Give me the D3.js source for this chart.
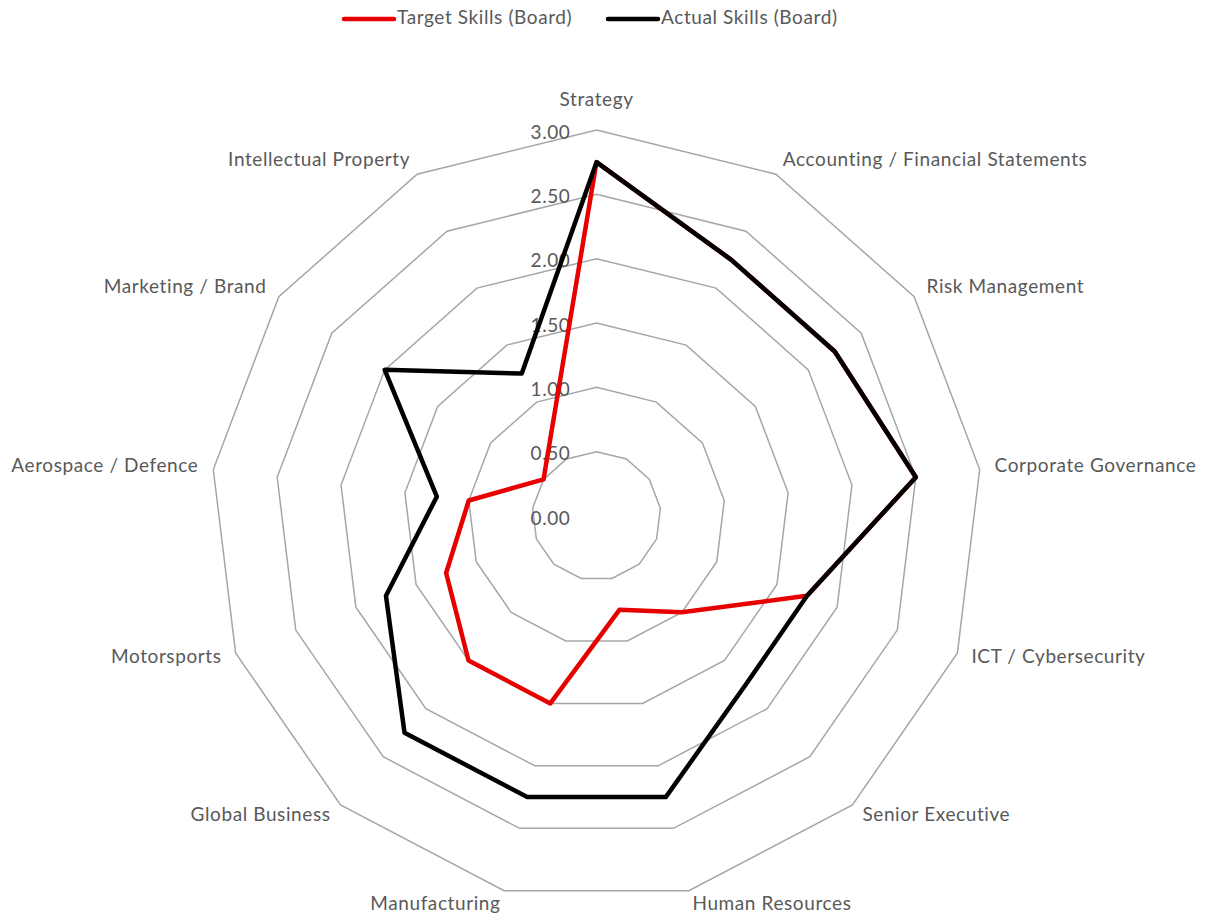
<!DOCTYPE html>
<html>
<head>
<meta charset="utf-8">
<script src="https://cdn.jsdelivr.net/npm/d3@7"></script>
<style>
  html, body { margin: 0; padding: 0; background: #fff; }
  svg text { font-family: Lato, "Open Sans", sans-serif; fill: #595959; letter-spacing: 0.6px; }
</style>
</head>
<body>
<div id="chart"></div>
<script>
const categories = [
  "Strategy", "Accounting / Financial Statements", "Risk Management",
  "Corporate Governance", "ICT / Cybersecurity", "Senior Executive",
  "Human Resources", "Manufacturing", "Global Business", "Motorsports",
  "Aerospace / Defence", "Marketing / Brand", "Intellectual Property"
];
const targetSkills = [2.75, 2.25, 2.25, 2.5, 1.75, 1.0, 0.75, 1.5, 1.5, 1.25, 1.0, 0.5, 0.75];
const actualSkills = [2.75, 2.25, 2.25, 2.5, 1.75, 1.75, 2.25, 2.25, 2.25, 1.75, 1.25, 2.0, 1.25];
const ticks = [0, 0.5, 1, 1.5, 2, 2.5, 3];
const seriesNames = ["Target Skills (Board)", "Actual Skills (Board)"];

const width = 1207, height = 915;
const cx = 596.5, cy = 516, R = 386;
const fontSize = 19;

const svg = d3.select("#chart")
  .append("svg")
  .attr("width", width)
  .attr("height", height);

const r = d3.scaleLinear().domain([0, 3]).range([0, R]);
const angle = d3.scaleLinear().domain([0, categories.length]).range([0, 2 * Math.PI]);

const g = svg.append("g").attr("transform", `translate(${cx},${cy})`);

// grid rings (no ring at 0)
const ring = d3.lineRadial()
  .angle((d, i) => angle(i))
  .radius(d => r(d))
  .curve(d3.curveLinearClosed);

g.selectAll("path.grid")
  .data(ticks.filter(t => t > 0))
  .enter()
  .append("path")
  .attr("class", "grid")
  .attr("d", t => ring(categories.map(() => t)))
  .style("fill", "none")
  .style("stroke", "#a6a6a6")
  .style("stroke-width", 1.5);

// tick labels
g.selectAll("text.tick")
  .data(ticks)
  .enter()
  .append("text")
  .attr("class", "tick")
  .attr("x", -26)
  .attr("y", d => -r(d) + 4)
  .attr("text-anchor", "end")
  .attr("dominant-baseline", "middle")
  .style("font-size", fontSize + "px")
  .text(d => d3.format(".2f")(d));

// series
const colors = ["#e60000", "#000000"];
const series = [targetSkills, actualSkills];

g.selectAll("path.series")
  .data(series)
  .enter()
  .append("path")
  .attr("class", "series")
  .attr("d", d => ring(d))
  .style("fill", "none")
  .style("stroke", (d, i) => colors[i])
  .style("stroke-width", 4.5)
  .style("stroke-linejoin", "round");

// category labels
g.selectAll("text.cat")
  .data(categories)
  .enter()
  .append("text")
  .attr("class", "cat")
  .each(function (d, i) {
    const a = angle(i);
    const sx = Math.sin(a), sy = -Math.cos(a);
    const el = d3.select(this);
    if (i === 0) {
      el.attr("x", 0).attr("y", -R - 24).attr("text-anchor", "middle");
    } else {
      const rr = R + 15;
      el.attr("x", sx * rr)
        .attr("y", sy * rr)
        .attr("text-anchor", sx > 0 ? "start" : "end")
        .attr("dominant-baseline", "middle");
    }
  })
  .style("font-size", fontSize + "px")
  .text(d => d);

// legend
const legendX = [344, 608];
const legend = svg.selectAll("g.legend")
  .data(seriesNames)
  .enter()
  .append("g")
  .attr("class", "legend")
  .attr("transform", (d, i) => `translate(${legendX[i]},19)`);

legend.append("line")
  .attr("x1", 0).attr("x2", 50)
  .style("stroke", (d, i) => colors[i])
  .style("stroke-width", 4.5)
  .style("stroke-linecap", "round");

legend.append("text")
  .attr("x", 53)
  .attr("dominant-baseline", "middle")
  .style("font-size", fontSize + "px")
  .text(d => d);
</script>
</body>
</html>
